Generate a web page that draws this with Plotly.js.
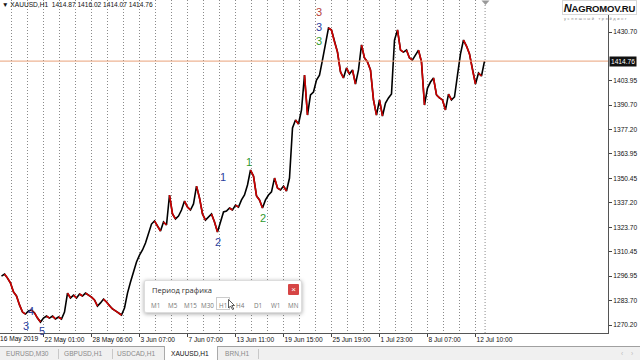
<!DOCTYPE html>
<html><head><meta charset="utf-8">
<script src="https://cdn.plot.ly/plotly-3.0.1.min.js"></script>
<style>
html,body{margin:0;padding:0;background:#fff;overflow:hidden;}
#wrap{position:relative;width:640px;height:360px;overflow:hidden;font-family:"Liberation Sans",Arial,sans-serif;}
#chart{position:absolute;left:0;top:0;width:640px;height:360px;}
.ov{position:absolute;white-space:nowrap;}
</style></head><body>
<div id="wrap">
<div id="chart"></div>
<div class="ov" style="left:2px;top:1px;font-size:6.6px;color:#111;">&#9660; XAUUSD,H1&nbsp; 1414.87 1416.02 1414.07 1414.76</div>
<div class="ov" style="left:562px;top:0px;width:75px;height:15px;background:#fff;border:1px solid #d8d8d8;box-sizing:border-box;font-size:9.5px;font-weight:bold;color:#111;text-align:center;line-height:14px;letter-spacing:-0.2px;"><i style="font-size:11px">N</i>AGROMOV.RU</div>
<div class="ov" style="left:564px;top:16px;font-size:4px;color:#888;letter-spacing:1.6px;">успешный трейдинг</div>
<div class="ov" style="left:0px;top:335px;font-size:6.6px;color:#111;">16 May 2019</div>
<!-- dialog -->
<div class="ov" style="left:144px;top:280px;width:156px;height:31px;background:#fff;border:1px solid #ddd;box-shadow:0 1px 4px rgba(0,0,0,0.35);border-radius:2px;">
  <div class="ov" style="left:7px;top:4px;font-size:7.5px;color:#333;font-family:'Open Sans',sans-serif;">Период графика</div>
  <div class="ov" style="left:143px;top:3px;width:11px;height:11px;background:#d64545;color:#fff;font-size:8px;line-height:11px;text-align:center;border-radius:1px;">×</div>
  <div class="ov" style="left:71px;top:16px;width:14px;height:13px;border:1px solid #ccc;box-sizing:border-box;"></div>
  <div class="ov" style="top:20px;left:0;width:156px;font-size:6.3px;color:#777;font-family:'Open Sans',sans-serif;">
    <span class="ov" style="left:6px">M1</span><span class="ov" style="left:23px">M5</span><span class="ov" style="left:39px">M15</span><span class="ov" style="left:56px">M30</span><span class="ov" style="left:74px">H1</span><span class="ov" style="left:91px">H4</span><span class="ov" style="left:109px">D1</span><span class="ov" style="left:126px">W1</span><span class="ov" style="left:143px">MN</span>
  </div>
  <svg class="ov" style="left:83px;top:18px" width="8" height="11"><polygon points="0.5,0.5 0.5,9 2.5,7 4.5,10.5 5.8,10 3.8,6.5 6.5,6.5" fill="#fff" stroke="#333" stroke-width="0.8"/></svg>
</div>
<!-- tab bar -->
<div class="ov" style="left:0;top:346px;width:640px;height:14px;background:#f0f0f0;border-top:1px solid #a0a0a0;box-sizing:border-box;font-size:6.6px;color:#8a8a8a;line-height:8px;">
  <span class="ov" style="left:6px;top:3px">EURUSD,M30</span>
  <span class="ov" style="left:58px;top:2px;width:1px;height:10px;background:#c8c8c8"></span>
  <span class="ov" style="left:64px;top:3px">GBPUSD,H1</span>
  <span class="ov" style="left:112px;top:2px;width:1px;height:10px;background:#c8c8c8"></span>
  <span class="ov" style="left:117px;top:3px">USDCAD,H1</span>
  <span class="ov" style="left:164px;top:-1px;width:54px;height:14px;background:#fff;border-left:1px solid #aaa;border-right:1px solid #aaa;box-sizing:border-box;"></span>
  <span class="ov" style="left:171px;top:3px;color:#111">XAUUSD,H1</span>
  <span class="ov" style="left:225px;top:3px">BRN,H1</span>
  <span class="ov" style="left:258px;top:2px;width:1px;height:10px;background:#c8c8c8"></span>
  <span class="ov" style="left:621px;top:3px;color:#bbb">‹</span>
  <span class="ov" style="left:631px;top:3px;color:#bbb">›</span>
</div>
<svg class="ov" style="left:481px;top:0" width="9" height="6"><polygon points="0.5,0.5 8.5,0.5 4.5,5" fill="#999"/></svg>
</div>
<script>
// Hourly closes (one value per ~3 px of chart)
const closes = [
1297.0,1298.1,1295.9,1293.2,1288.3,1286.1,1281.2,1277.3,1276.2,1277.9,
1278.4,1276.8,1274.0,1271.8,1274.0,1275.1,1274.0,1275.1,1273.5,1274.6,
1273.5,1277.3,1287.7,1285.0,1286.6,1285.0,1287.2,1286.1,1287.7,1286.6,
1285.5,1283.9,1280.6,1282.3,1284.4,1282.8,1280.6,1279.0,1277.9,1276.8,
1275.7,1279.5,1287.7,1293.8,1299.2,1304.7,
1308.5,1311.3,1315.1,1320.6,1325.5,1327.2,1324.4,1321.7,1326.6,1325.0,
1341.4,1331.0,1328.3,1329.9,1333.2,1338.1,1334.8,1333.2,1336.5,1346.3,
1339.8,1331.0,1327.7,1329.4,1331.0,1326.6,1321.1,1326.6,1332.1,1332.6,
1334.3,1333.2,1335.9,1334.8,1338.7,1341.4,1346.9,1355.1,1351.8,1340.9,
1338.7,1334.3,1338.7,1341.4,1343.1,1350.7,1345.2,1344.2,1346.3,1343.6,
1350.7,1378.1,1382.5,1380.3,1388.0,1407.1,1385.2,1396.2,1397.8,1404.4,
1407.1,1415.4,1423.6,1432.9,1431.8,1425.2,1419.7,1408.8,1405.5,1411.0,
1407.7,1409.9,1402.2,1409.9,1423.6,1416.5,1414.3,1409.9,1393.5,1385.2,
1393.5,1384.7,1391.8,1394.6,1396.7,1426.3,1431.8,1420.8,1419.7,1420.8,
1416.5,1415.4,1418.1,1420.8,1414.3,1390.7,1400.0,1403.3,1405.5,1396.2,
1394.6,1393.5,1388.0,1396.7,1393.5,1395.1,1407.1,1418.7,1426.3,1423.0,
1418.7,1409.9,1402.2,1408.2,1406.6,1414.76
];
const timeTickIdx = [14,30,46,62,78,94,110,126,142,158];
const timeTickLabels = ['22 May 01:00','28 May 06:00','3 Jun 07:00','7 Jun 07:00','13 Jun 11:00','19 Jun 15:00','25 Jun 19:00','1 Jul 23:00','8 Jul 07:00','12 Jul 10:00'];
const priceTicks = [1430.70,1403.95,1390.70,1377.20,1363.95,1350.45,1337.20,1323.70,1310.45,1296.95,1283.70,1270.20];
const priceTickLabels = ['1430.70','1403.95','1390.70','1377.20','1363.95','1350.45','1337.20','1323.70','1310.45','1296.95','1283.70','1270.20'];
const bidPrice = 1414.76;
const waveLabels = [
  {x:8.2,  y:1269.6, t:'3', c:'#2c3e9e'},
  {x:9.8,  y:1277.6, t:'4', c:'#2c3e9e'},
  {x:13.5, y:1266.8, t:'5', c:'#2c3e9e'},
  {x:73.8, y:1351.3, t:'1', c:'#2c3e9e'},
  {x:72.2, y:1315.7, t:'2', c:'#2c3e9e'},
  {x:82.5, y:1359.5, t:'1', c:'#2f9a2f'},
  {x:87.2, y:1328.8, t:'2', c:'#2f9a2f'},
  {x:105.8,y:1441.7, t:'3', c:'#b5403a'},
  {x:105.8,y:1433.4, t:'3', c:'#2c3e9e'},
  {x:105.8,y:1425.8, t:'3', c:'#2f9a2f'}
];

const idx = closes.map((_, i) => i);
// falling segments drawn in red over the black price line
const downX = [], downY = [];
for (let i = 1; i < closes.length; i++) {
  if (closes[i] < closes[i-1]) { downX.push(i-1, i, null); downY.push(closes[i-1], closes[i], null); }
}

// dotted vertical grid every 16/3 bars, stopping at last bar
const gridVals = [];
for (let k = -2; k <= 27; k++) { if (k % 3 !== 0) gridVals.push(14 + 16*k/3); }

const traces = [
  {type:'scatter', mode:'lines', x:idx, y:closes, line:{color:'#000', width:1.6}, hoverinfo:'skip', showlegend:false},
  {type:'scatter', mode:'lines', x:downX, y:downY, line:{color:'#d10000', width:1.6}, connectgaps:false, hoverinfo:'skip', showlegend:false}
];

const annotations = waveLabels.map(w => ({
  x:w.x, y:w.y, xref:'x', yref:'y', text:w.t, showarrow:false,
  font:{family:'Liberation Sans, Arial', size:11, color:w.c}
}));
annotations.push({
  xref:'paper', x:1, xanchor:'left', xshift:1, yref:'y', y:bidPrice, text:'1414.76',
  showarrow:false, bgcolor:'#111', font:{family:'Liberation Sans, Arial', size:6.6, color:'#fff'}, borderpad:1
});

const layout = {
  width:640, height:360, margin:{l:0, r:32, t:0, b:27},
  paper_bgcolor:'#fff', plot_bgcolor:'#fff', showlegend:false,
  font:{family:'Liberation Sans, Arial', size:6.6, color:'#111'},
  xaxis:{
    range:[-0.5, 202.17], fixedrange:true,
    tickmode:'array', tickvals:timeTickIdx, ticktext:timeTickLabels, tickangle:0,
    ticks:'outside', ticklen:3, tickcolor:'#444', ticklabelposition:'outside right',
    tickfont:{size:6.6, color:'#111'},
    showgrid:true, gridcolor:'#8a8a8a', griddash:'1px,2px', gridwidth:1,
    minor:{tickmode:'array', tickvals:gridVals, showgrid:true, gridcolor:'#8a8a8a', griddash:'1px,2px', gridwidth:1, ticks:''},
    showline:true, linecolor:'#555', linewidth:1, zeroline:false
  },
  yaxis:{
    side:'right', range:[1265.82, 1448.23], fixedrange:true,
    tickmode:'array', tickvals:priceTicks, ticktext:priceTickLabels,
    ticks:'outside', ticklen:3, tickcolor:'#444', tickfont:{size:6.6, color:'#111'},
    showgrid:false, zeroline:false, showline:true, linecolor:'#555', linewidth:1
  },
  shapes:[
    {type:'line', xref:'paper', x0:0, x1:1, yref:'y', y0:bidPrice, y1:bidPrice, line:{color:'#e9a27a', width:1}},
    {type:'line', xref:'x', x0:161.2, x1:161.2, yref:'paper', y0:0, y1:1, line:{color:'#8a8a8a', width:1, dash:'1px,2px'}, layer:'below'}
  ],
  annotations: annotations
};
Plotly.newPlot('chart', traces, layout, {displayModeBar:false, staticPlot:true});
</script>
</body></html>
